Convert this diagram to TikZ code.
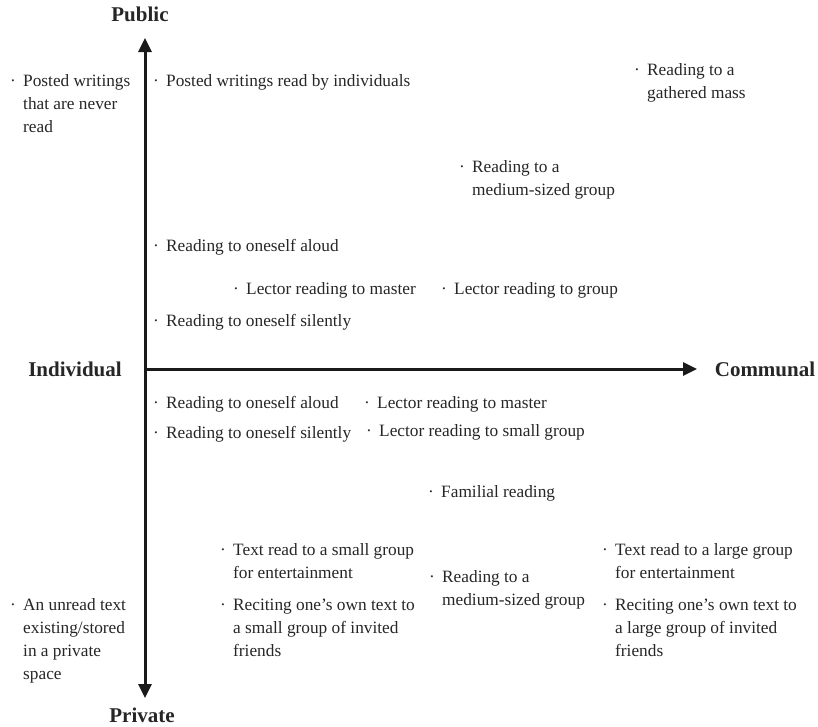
\documentclass[tikz,border=0pt]{standalone}
\usepackage{fontspec}
\setmainfont{Liberation Serif}
\usetikzlibrary{arrows.meta}
\definecolor{ink}{HTML}{262626}
\definecolor{axisink}{HTML}{1A1A1A}
% one bulleted entry: bullet, then the (possibly multi-line) text, first baseline at the anchor
\newcommand{\entry}[1]{\makebox[13pt][l]{·}\begin{tabular}[t]{@{}l@{}}#1\end{tabular}}
\tikzset{
  item/.style={anchor=base west, inner sep=0pt, text=ink,
    font=\fontsize{17.3}{23}\selectfont},
  heading/.style={anchor=base, inner sep=0pt, text=ink,
    font=\fontsize{21}{25}\selectfont\bfseries},
  axisline/.style={draw=axisink, line width=3pt,
    arrows={-Triangle[length=14pt,width=13pt]}},
}
\begin{document}
\begin{tikzpicture}[x=1pt,y=-1pt]
\useasboundingbox (0,0) rectangle (818,726);

% axes
\coordinate (origin) at (145,369);
\coordinate (ptop) at (145,38);
\coordinate (pbot) at (145,698);
\coordinate (pright) at (697,369);
\draw[axisline] (origin) -- (ptop);
\draw[axisline] (origin) -- (pbot);
\draw[axisline] (origin) -- (pright);

% axis labels
\node[heading] (public) at (140,21) {Public};
\node[heading] (private) at (142,722) {Private};
\node[heading] (individual) at (75,376) {Individual};
\node[heading] (communal) at (765,376) {Communal};

% public half
\node[item] (neverread) at (10,86) {\entry{Posted writings\\that are never\\read}};
\node[item] (postedind) at (153,86) {\entry{Posted writings read by individuals}};
\node[item] (gathered) at (634,75) {\entry{Reading to a\\gathered mass}};
\node[item] (medpub) at (459,172) {\entry{Reading to a\\medium-sized group}};
\node[item] (aloudpub) at (153,251) {\entry{Reading to oneself aloud}};
\node[item] (lectormpub) at (233,294) {\entry{Lector reading to master}};
\node[item] (lectorgpub) at (441,294) {\entry{Lector reading to group}};
\node[item] (silentpub) at (153,326) {\entry{Reading to oneself silently}};

% private half
\node[item] (aloudpriv) at (153,408) {\entry{Reading to oneself aloud}};
\node[item] (lectormpriv) at (364,408) {\entry{Lector reading to master}};
\node[item] (silentpriv) at (153,438) {\entry{Reading to oneself silently}};
\node[item] (lectorspriv) at (366,436) {\entry{Lector reading to small group}};
\node[item] (familial) at (428,497) {\entry{Familial reading}};
\node[item] (smallent) at (220,555) {\entry{Text read to a small group\\for entertainment}};
\node[item] (smallrec) at (220,610) {\entry{Reciting one's own text to\\a small group of invited\\friends}};
\node[item] (medpriv) at (429,582) {\entry{Reading to a\\medium-sized group}};
\node[item] (largeent) at (602,555) {\entry{Text read to a large group\\for entertainment}};
\node[item] (largerec) at (602,610) {\entry{Reciting one's own text to\\a large group of invited\\friends}};
\node[item] (unread) at (10,610) {\entry{An unread text\\existing/stored\\in a private\\space}};
\end{tikzpicture}
\end{document}
